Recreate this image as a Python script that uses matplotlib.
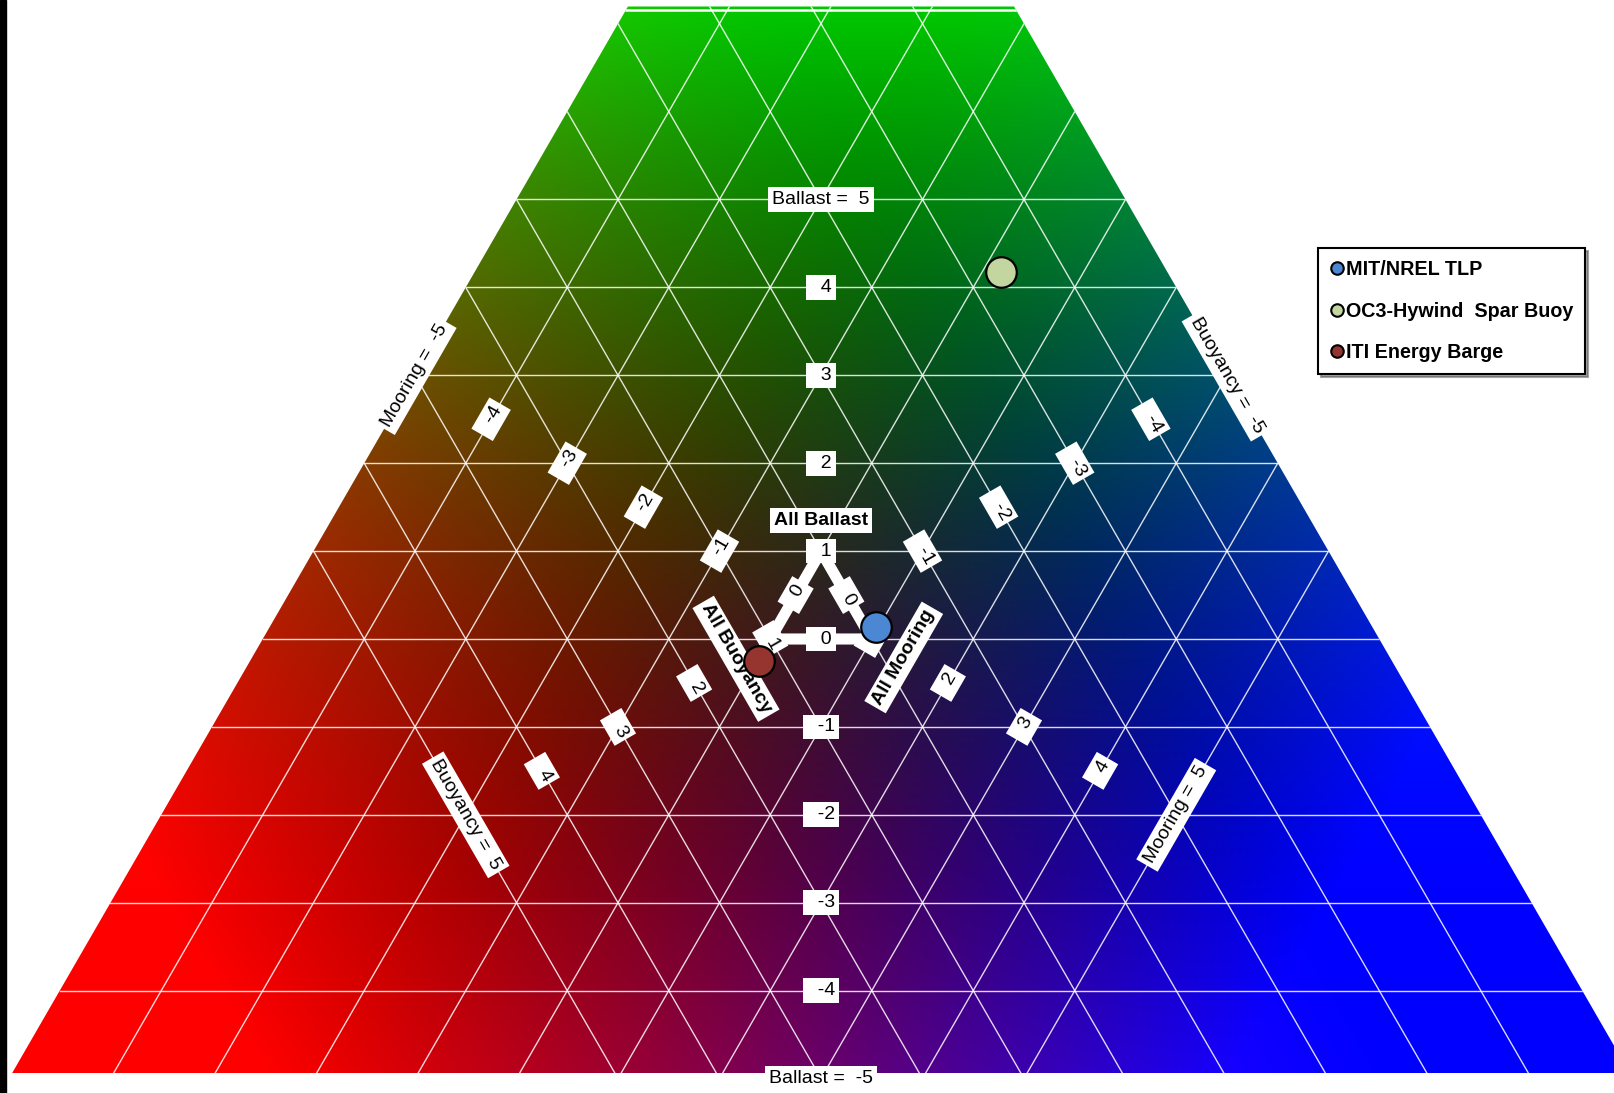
import numpy as np
import matplotlib
matplotlib.use("Agg")
import matplotlib.pyplot as plt
from matplotlib.patches import Polygon, Rectangle
from matplotlib.lines import Line2D

plt.rcParams['font.family'] = ['Liberation Sans', 'DejaVu Sans']

# platform designs as (ballast, buoyancy, mooring) shares, each row sums to 1
designs = ["MIT/NREL TLP", "OC3-Hywind  Spar Buoy", "ITI Energy Barge"]
ballast = [0.14, 4.17, -0.25]
buoyancy = [-0.11, -3.36, 1.24]
mooring = [0.97, 0.19, 0.01]
design_colors = ["#4b87d2", "#c4d6a0", "#963530"]

grid_values = list(range(-4, 6))
tick_values = list(range(-5, 6))
low, high = -5, 11

S3 = np.sqrt(3) / 2
W, H = 1614, 1093
PX = 101.5          # pixels per unit of side
CX, CY = 821, 639   # pixel position of ballast = 0 on the centre line


def to_xy(b, bu, m):
    b, bu, m = (np.asarray(a, dtype=float) for a in (b, bu, m))
    return (m - bu) / 2.0, b * S3


def axis_point(kind, v):
    rest = (1 - v) / 2
    if kind == "ballast":
        return to_xy(v, rest, rest)
    if kind == "buoyancy":
        return to_xy(rest, v, rest)
    return to_xy(rest, rest, v)


fig = plt.figure(figsize=(W / 100, H / 100), dpi=100)
ax = fig.add_axes([0, 0, 1, 1])
ax.axis("off")
xlim = (-CX / PX, (W - CX) / PX)
ylim = ((CY - H) / PX, CY / PX)

# plotted band of the big triangle
y_top = (CY - 6.5) / PX
y_bot = (CY - 1073) / PX
apex_y = high * S3


def half_width(y):
    return (apex_y - y) / np.sqrt(3)


band = Polygon([(-half_width(y_bot), y_bot), (half_width(y_bot), y_bot),
                (half_width(y_top), y_top), (-half_width(y_top), y_top)],
               closed=True, transform=ax.transData)

# colour field: red = buoyancy, green = ballast, blue = mooring
xs = np.linspace(xlim[0], xlim[1], W)
ys = np.linspace(ylim[1], ylim[0], H)
X, Y = np.meshgrid(xs, ys)
B = Y / S3
M = (1 - B) / 2 + X
Bu = (1 - B) / 2 - X


def shade(c, start, span, power):
    t = (c - low) / (high - low)
    return np.clip((t - start) / span, 0, 1) ** power


rgb = np.dstack([shade(Bu, 0.14, 0.70, 1.3),
                 shade(B, 0.10, 0.758, 1.8),
                 shade(M, 0.18, 0.57, 1.5)])
im = ax.imshow(rgb, extent=(xlim[0], xlim[1], ylim[0], ylim[1]),
               origin="upper", interpolation="bilinear", zorder=1)
im.set_clip_path(band)

# grid lines for each component, from edge to edge
for v in grid_values:
    e = 1 - v - low
    segs = [((v, low, e), (v, e, low)),
            ((low, v, e), (e, v, low)),
            ((low, e, v), (e, low, v))]
    for p, q in segs:
        x, y = to_xy(*np.array([p, q]).T)
        ln, = ax.plot(x, y, color="white", lw=1.0, alpha=0.85, zorder=2)
        ln.set_clip_path(band)

yl = (CY - 10) / PX
ln, = ax.plot([-half_width(yl), half_width(yl)], [yl, yl], color="white",
              lw=1.8, zorder=2)
ln.set_clip_path(band)

# pure-component triangle
tx, ty = to_xy([1, 0, 0], [0, 1, 0], [0, 0, 1])
ax.add_patch(Polygon(np.column_stack([tx, ty]), closed=True, fill=False,
                     ec="white", lw=8, joinstyle="miter", zorder=3))

box = dict(boxstyle="square,pad=0.2", fc="white", ec="none")
names = {"ballast": "Ballast", "buoyancy": "Buoyancy", "mooring": "Mooring"}
rotations = {"ballast": 0, "buoyancy": -60, "mooring": 60}
for kind in ["ballast", "buoyancy", "mooring"]:
    for v in tick_values:
        x, y = axis_point(kind, v)
        if abs(v) == 5:
            txt = f"{names[kind]} =  {v}"
        else:
            txt = f"  {v}"
        ax.text(x, y, txt, ha="center", va="center", fontsize=14,
                rotation=rotations[kind], rotation_mode="anchor",
                bbox=box, zorder=4)

titles = {"ballast": 1.35, "buoyancy": 1.45, "mooring": 1.42}
for kind, v in titles.items():
    x, y = axis_point(kind, v)
    ax.text(x, y, f"All {names[kind]}", ha="center", va="center", fontsize=14,
            fontweight="bold", rotation=rotations[kind],
            rotation_mode="anchor", bbox=box, zorder=4)

# designs
px, py = to_xy(ballast, buoyancy, mooring)
for i in range(len(designs)):
    ax.plot(px[i], py[i], "o", ms=22, mfc=design_colors[i], mec="black",
            mew=1.6, zorder=5)

handles = [Line2D([], [], ls="none", marker="o", ms=9, mfc=c, mec="black",
                  mew=1.5) for c in design_colors]
leg = ax.legend(handles, designs, loc="upper left",
                bbox_to_anchor=(1318 / W, 1 - 248 / H),
                bbox_transform=fig.transFigure, borderaxespad=0,
                prop=dict(size=14.2, weight="bold"), frameon=True,
                fancybox=False, shadow=True, borderpad=0.6,
                handlelength=0.7, handletextpad=0.1, labelspacing=1.15)
leg.get_frame().set_edgecolor("black")
leg.get_frame().set_linewidth(1.5)

fig.add_artist(Rectangle((0, 0), 5.5 / W, 1, transform=fig.transFigure,
                         color="black"))

ax.set_aspect("auto")
ax.set_xlim(*xlim)
ax.set_ylim(*ylim)
fig.savefig("out.png", dpi=100)
